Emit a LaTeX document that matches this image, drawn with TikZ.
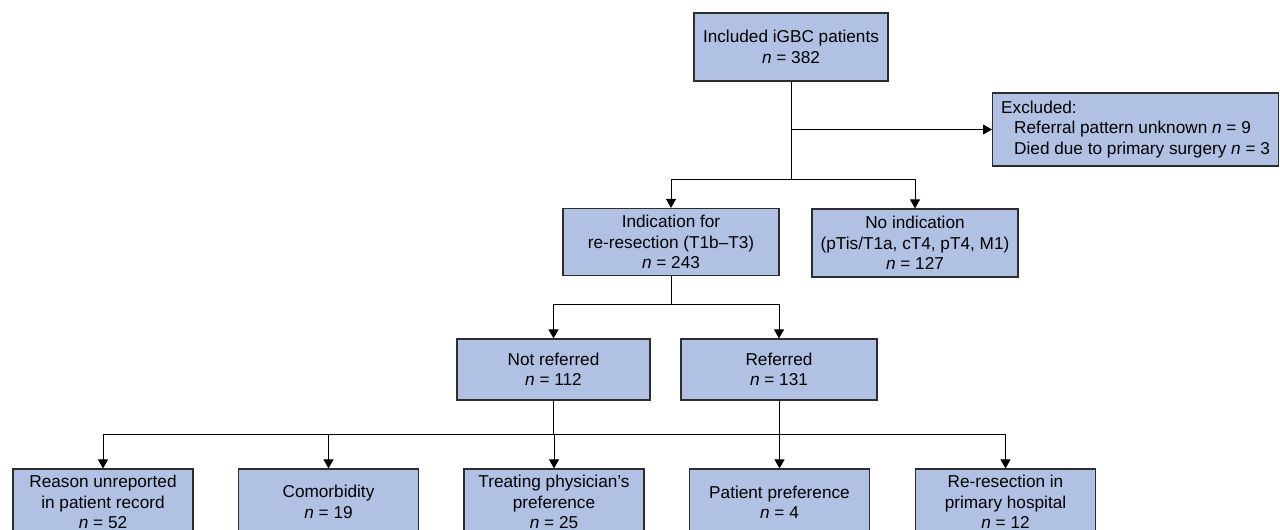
\documentclass[tikz,border=0pt]{standalone}
\usepackage{fontspec}
\setmainfont{Liberation Sans}
\usetikzlibrary{arrows.meta, positioning}
\definecolor{boxblue}{RGB}{176,193,228}
\definecolor{boxline}{RGB}{45,45,45}

\begin{document}
\begin{tikzpicture}[x=0.5pt, y=-0.5pt,
  box/.style={draw=boxline, fill=boxblue, line width=0.6pt, align=center,
    inner sep=1pt, font=\fontsize{8.6}{10.2}\selectfont},
  link/.style={line width=0.5pt},
  arr/.style={link, -{Triangle[length=4.5pt, width=5pt]}}]
  \useasboundingbox (0,0) rectangle (1280,530);

  % cohort and exclusions
  \node[box, minimum width=97pt, minimum height=34pt] (incl) at (791,47)
    {Included iGBC patients\\\textit{n} = 382};
  \node[box, minimum width=143pt, minimum height=36.5pt, align=left,
    anchor=west] (excl) at (992,129.5)
    {Excluded:\\\hspace*{6.5pt}Referral pattern unknown \textit{n} = 9\\
     \hspace*{6.5pt}Died due to primary surgery \textit{n} = 3};

  % indication for re-resection
  \node[box, minimum width=108pt, minimum height=33.5pt] (ind) at (671,242)
    {Indication for\\re-resection (T1b--T3)\\\textit{n} = 243};
  \node[box, minimum width=103pt, minimum height=34pt] (noind) at (915,243)
    {No indication\\(pTis/T1a, cT4, pT4, M1)\\\textit{n} = 127};

  % referral
  \node[box, minimum width=96.5pt, minimum height=30.5pt] (notref) at (553.5,369.5)
    {Not referred\\\textit{n} = 112};
  \node[box, minimum width=98pt, minimum height=30.5pt] (ref) at (779,369.5)
    {Referred\\\textit{n} = 131};

  % reasons
  \foreach \name/\x/\txt in {
      r1/103/{Reason unreported\\in patient record\\\textit{n} = 52},
      r2/328.5/{Comorbidity\\\textit{n} = 19},
      r3/554/{Treating physician’s\\preference\\\textit{n} = 25},
      r4/779.5/{Patient preference\\\textit{n} = 4},
      r5/1005.5/{Re-resection in\\primary hospital\\\textit{n} = 12}} {
    \node[box, minimum width=90pt, minimum height=33pt] (\name) at (\x,502) {\txt};
  }

  % connectors
  \coordinate (j0) at (791,129.5);
  \coordinate (j1) at (791,179);
  \draw[link] (incl) -- (j1);
  \draw[arr] (j0) -- (excl.west);
  \draw[arr] (j1) -| (ind);
  \draw[arr] (j1) -| (noind);

  \coordinate (j2) at (671,304);
  \draw[link] (ind) -- (j2);
  \draw[arr] (j2) -| (notref);
  \draw[arr] (j2) -| (ref);

  \coordinate (j3) at (103,434);
  \coordinate (j4) at (1005.5,434);
  \draw[link] (j3) -- (j4);
  \draw[link] (notref) -- (notref |- j3);
  \draw[link] (ref) -- (ref |- j3);
  \foreach \name in {r1,r2,r3,r4,r5}
    \draw[arr] (\name |- j3) -- (\name);
\end{tikzpicture}
\end{document}
